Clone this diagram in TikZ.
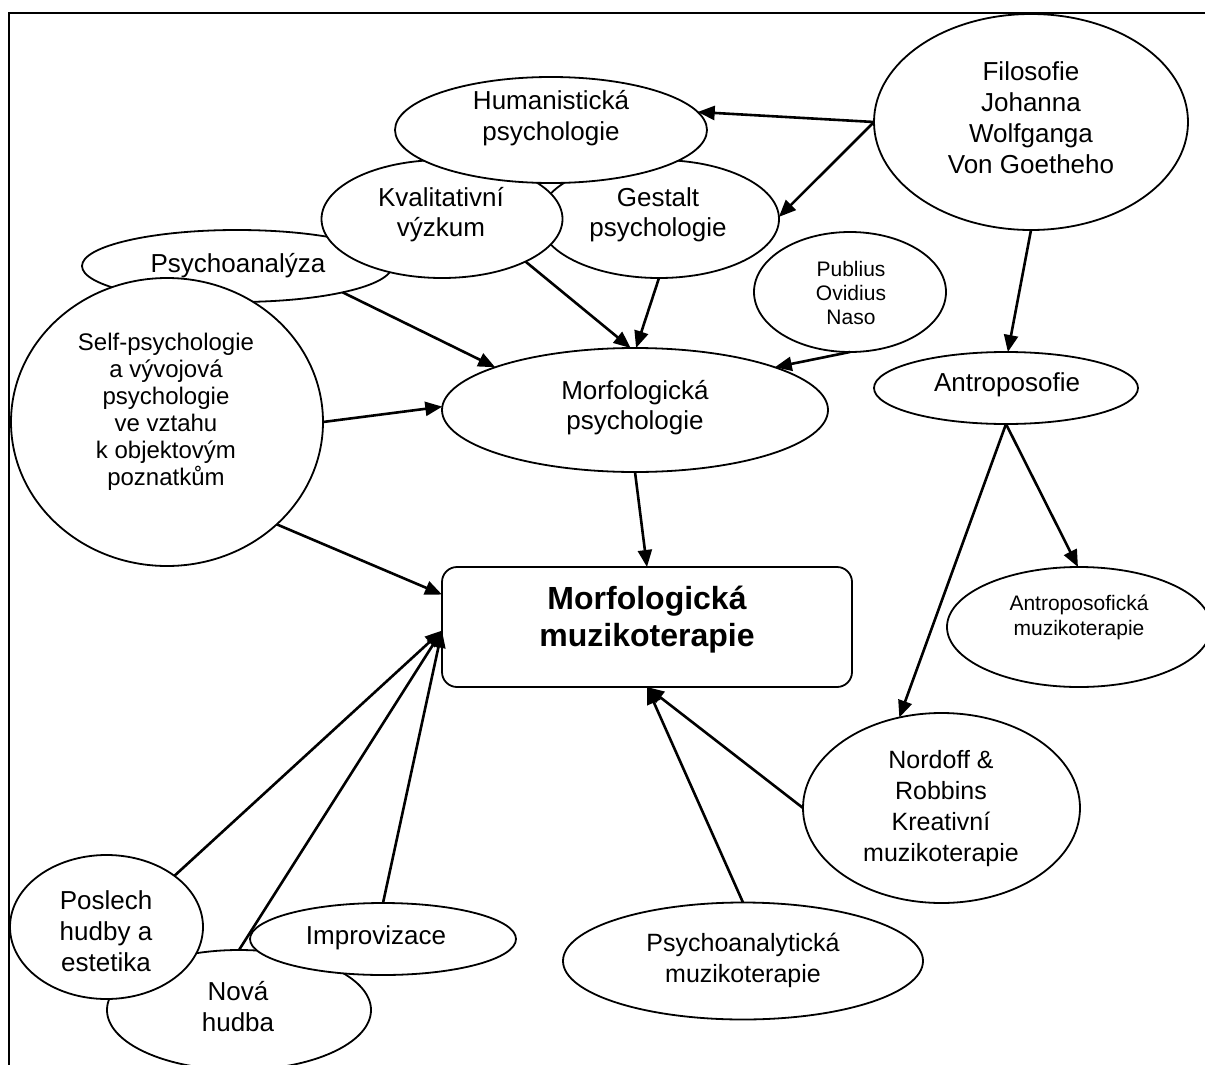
\documentclass[tikz,border=0pt]{standalone}
\usepackage{fontspec}
\setmainfont{Liberation Sans}
\usetikzlibrary{shapes.geometric,arrows.meta}
\begin{document}
\begin{tikzpicture}[x=1pt,y=-1pt,
 ell/.style={ellipse,draw,line width=1.8pt,fill=white,inner sep=0pt,outer sep=0pt},
 txt/.style={inner sep=0pt,align=center,font=\fontsize{26}{31}\selectfont},
 arr/.style={line width=2.6pt,-{Triangle[length=17pt,width=14pt]}}]
\useasboundingbox (0,0) rectangle (1205,1065);
\clip (0,0) rectangle (1205,1065);
\draw[line width=2pt] (9,1075) -- (9,13) -- (1215,13);
% ellipses (back to front)
\node[ell,minimum width=264pt,minimum height=120pt] (nova) at (239,1010) {};
\node[ell,minimum width=193pt,minimum height=144pt] (posl) at (106.5,927) {};
\node[ell,minimum width=266pt,minimum height=72pt] (impr) at (383,939) {};
\node[ell,minimum width=310pt,minimum height=72pt] (psa) at (237,266) {};
\node[ell,minimum width=312pt,minimum height=288pt] (self) at (167,422) {};
\node[ell,minimum width=240pt,minimum height=118pt] (gest) at (659,219) {};
\node[ell,minimum width=241pt,minimum height=118pt] (kval) at (442,219) {};
\node[ell,minimum width=312pt,minimum height=106pt] (hum) at (551,130) {};
\node[ell,minimum width=386pt,minimum height=124pt] (morf) at (635,410) {};
\node[ell,minimum width=192pt,minimum height=120pt] (pub) at (850,292) {};
\node[ell,minimum width=314pt,minimum height=216pt] (fil) at (1031,122) {};
\node[ell,minimum width=264pt,minimum height=72pt] (antr) at (1006,388) {};
\node[ell,minimum width=264pt,minimum height=120pt] (antm) at (1079,627) {};
\node[ell,minimum width=277pt,minimum height=190pt] (nord) at (941.5,808) {};
\node[ell,minimum width=360pt,minimum height=117pt] (pam) at (743,961) {};
\node[draw,line width=1.8pt,rounded corners=15pt,minimum width=410pt,minimum height=120pt,inner sep=0pt,outer sep=0pt,fill=white] (box) at (647,627) {};
% texts
\node[txt] (humT) at (551,118) {Humanistická\\psychologie};
\node[txt,font=\fontsize{26}{30}\selectfont] (kvalT) at (441,215) {Kvalitativní\\výzkum};
\node[txt,font=\fontsize{26}{30}\selectfont] (gestT) at (658,215) {Gestalt\\psychologie};
\node[txt] (psaT) at (238,266) {Psychoanalýza};
\node[txt,font=\fontsize{24}{27}\selectfont] (selfT) at (166,412) {Self-psychologie\\a vývojová\\psychologie\\ve vztahu\\k objektovým\\poznatkům};
\node[txt,font=\fontsize{26}{30}\selectfont] (morfT) at (635,408) {Morfologická\\psychologie};
\node[txt,font=\fontsize{21}{24}\selectfont] (pubT) at (851,293) {Publius\\Ovidius\\Naso};
\node[txt] (filT) at (1031,118) {Filosofie\\Johanna\\Wolfganga\\Von Goetheho};
\node[txt] (antrT) at (1007,385) {Antroposofie};
\node[txt,font=\fontsize{21}{25}\selectfont] (antmT) at (1079,617) {Antroposofická\\muzikoterapie};
\node[txt,font=\fontsize{25}{31}\selectfont] (nordT) at (941,809) {Nordoff \&\\Robbins\\Kreativní\\muzikoterapie};
\node[txt,font=\fontsize{25}{31}\selectfont] (pamT) at (743,960) {Psychoanalytická\\muzikoterapie};
\node[inner sep=0pt,align=center,font=\bfseries\fontsize{32}{37}\selectfont] (boxT) at (647,620) {Morfologická\\muzikoterapie};
\node[txt] (poslT) at (106,931) {Poslech\\hudby a\\estetika};
\node[txt] (novaT) at (238,1007) {Nová\\hudba};
\node[txt] (imprT) at (376,938) {Improvizace};
% arrows
\draw[arr] (fil.180) -- (hum.7);
\draw[arr] (fil.180) -- (gest.1);
\draw[arr] (fil.270) -- (antr.87);
\draw[arr] (antr.270) -- (antm.91);
\draw[arr] (antr.270) -- (nord.115);
\draw[arr] (psa.346) -- (morf.163);
\draw[arr] (kval.333) -- (morf.94);
\draw[arr] (gest.270) -- (morf.89);
\draw[arr] (pub.270) -- (morf.17);
\draw[arr] (self.0) -- (morf.179);
\draw[arr] (self.317) -- (box.171);
\draw[arr] (morf.270) -- (box.north);
\draw[arr] (nord.180) -- (box.south);
\draw[arr] (pam.90) -- (box.south);
\draw[arr] (posl.37) -- (box.181);
\draw[arr] (nova.90) -- (box.181);
\draw[arr] (impr.90) -- (box.181);
\end{tikzpicture}
\end{document}
